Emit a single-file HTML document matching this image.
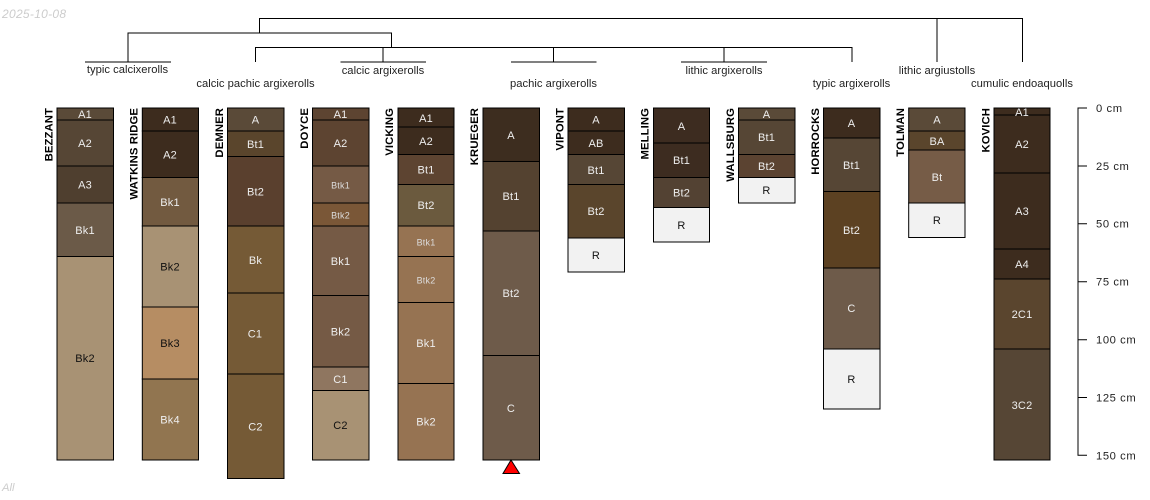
<!DOCTYPE html>
<html><head><meta charset="utf-8"><style>
html,body{margin:0;padding:0;background:#fff;width:1150px;height:500px;overflow:hidden}
svg{display:block;font-family:"Liberation Sans",Arial,sans-serif}
.h rect{stroke:#000;stroke-width:1}
.l text{font-size:11px;fill:#eee;text-anchor:middle;dominant-baseline:central;letter-spacing:.2px}
.l text.d{fill:#111}
.l text.s{font-size:9px;fill:#ddd}
.id text{font-size:11.3px;font-weight:bold;fill:#000;text-anchor:end;letter-spacing:.1px}
.t text{font-size:11.2px;fill:#222;text-anchor:middle;letter-spacing:.03px}
.a text{font-size:11.2px;fill:#222;dominant-baseline:central;letter-spacing:.6px}
</style></head><body>
<svg width="1150" height="500" viewBox="0 0 1150 500" xmlns="http://www.w3.org/2000/svg">
<text x="2" y="18" font-size="12" font-style="italic" fill="#ccc" letter-spacing=".3">2025-10-08</text>
<text x="2" y="491" font-size="11.2" font-style="italic" fill="#ccc">All</text>

<g fill="none" stroke="#000" stroke-width="1">
<path d="M259.5 33V18.5H1022.5V62M937 18.5V62"/>
<path d="M128 62V33H391.5V47.5"/>
<path d="M255.5 62V47.5H852V62M383 47.5V62M553.5 47.5V62M724 47.5V62"/>
<path d="M85 62H171M340.5 62H426M511 62H596.5M681 62H767"/>
</g>
<g class="t">
<text x="127.5" y="73">typic calcixerolls</text>
<text x="255.5" y="87">calcic pachic argixerolls</text>
<text x="383" y="74">calcic argixerolls</text>
<text x="553.5" y="87">pachic argixerolls</text>
<text x="724" y="74">lithic argixerolls</text>
<text x="851.5" y="87">typic argixerolls</text>
<text x="937" y="74">lithic argiustolls</text>
<text x="1022" y="87">cumulic endoaquolls</text>
</g>

<g class="id">
<text transform="translate(52.5 108) rotate(-90)">BEZZANT</text>
<text transform="translate(137.5 108) rotate(-90)">WATKINS RIDGE</text>
<text transform="translate(223 108) rotate(-90)">DEMNER</text>
<text transform="translate(308 108) rotate(-90)">DOYCE</text>
<text transform="translate(393 108) rotate(-90)">VICKING</text>
<text transform="translate(478 108) rotate(-90)">KRUEGER</text>
<text transform="translate(563.5 108) rotate(-90)">VIPONT</text>
<text transform="translate(648.5 108) rotate(-90)">MELLING</text>
<text transform="translate(734 108) rotate(-90)">WALLSBURG</text>
<text transform="translate(819 108) rotate(-90)">HORROCKS</text>
<text transform="translate(904 108) rotate(-90)">TOLMAN</text>
<text transform="translate(989.5 108) rotate(-90)">KOVICH</text>
</g>

<g class="h">
<!-- BEZZANT -->
<rect x="57" y="108" width="56.5" height="12" fill="#5a4a38"/>
<rect x="57" y="120" width="56.5" height="46" fill="#564635"/>
<rect x="57" y="166" width="56.5" height="37" fill="#4f3f2f"/>
<rect x="57" y="203" width="56.5" height="53.5" fill="#6b5a48"/>
<rect x="57" y="256.5" width="56.5" height="203.5" fill="#a89274"/>
<!-- WATKINS RIDGE -->
<rect x="142.3" y="108" width="56.2" height="23" fill="#3d2c1e"/>
<rect x="142.3" y="131" width="56.2" height="46.5" fill="#3d2c1e"/>
<rect x="142.3" y="177.5" width="56.2" height="48.5" fill="#725a40"/>
<rect x="142.3" y="226" width="56.2" height="81" fill="#a89274"/>
<rect x="142.3" y="307" width="56.2" height="72" fill="#b68d63"/>
<rect x="142.3" y="379" width="56.2" height="81" fill="#917550"/>
<!-- DEMNER -->
<rect x="227.5" y="108" width="56.5" height="23" fill="#5a4a38"/>
<rect x="227.5" y="131" width="56.5" height="25.5" fill="#5a452c"/>
<rect x="227.5" y="156.5" width="56.5" height="69.5" fill="#5a402e"/>
<rect x="227.5" y="226" width="56.5" height="67" fill="#755a36"/>
<rect x="227.5" y="293" width="56.5" height="81" fill="#755a36"/>
<rect x="227.5" y="374" width="56.5" height="104.5" fill="#755a36"/>
<!-- DOYCE -->
<rect x="312.5" y="108" width="56.5" height="12" fill="#5d4431"/>
<rect x="312.5" y="120" width="56.5" height="46" fill="#5d4431"/>
<rect x="312.5" y="166" width="56.5" height="37" fill="#755a45"/>
<rect x="312.5" y="203" width="56.5" height="23" fill="#7a5737"/>
<rect x="312.5" y="226" width="56.5" height="69.5" fill="#755a45"/>
<rect x="312.5" y="295.5" width="56.5" height="71.5" fill="#755a45"/>
<rect x="312.5" y="367" width="56.5" height="23.5" fill="#8f7660"/>
<rect x="312.5" y="390.5" width="56.5" height="69.5" fill="#a89274"/>
<!-- VICKING -->
<rect x="398" y="108" width="56" height="19" fill="#3d2c1e"/>
<rect x="398" y="127" width="56" height="27.5" fill="#3d2c1e"/>
<rect x="398" y="154.5" width="56" height="30" fill="#5d4431"/>
<rect x="398" y="184.5" width="56" height="41.5" fill="#6b5a3e"/>
<rect x="398" y="226" width="56" height="30.5" fill="#967352"/>
<rect x="398" y="256.5" width="56" height="46" fill="#967352"/>
<rect x="398" y="302.5" width="56" height="81" fill="#967352"/>
<rect x="398" y="383.5" width="56" height="76.5" fill="#967352"/>
<!-- KRUEGER -->
<rect x="483" y="108" width="56.5" height="53.5" fill="#3d2d1f"/>
<rect x="483" y="161.5" width="56.5" height="69.5" fill="#544230"/>
<rect x="483" y="231" width="56.5" height="124.5" fill="#6e5b4a"/>
<rect x="483" y="355.5" width="56.5" height="104.5" fill="#6e5b4a"/>
<!-- VIPONT -->
<rect x="568" y="108" width="56.5" height="23" fill="#3d2c1e"/>
<rect x="568" y="131" width="56.5" height="23.5" fill="#3d2c1e"/>
<rect x="568" y="154.5" width="56.5" height="30" fill="#564635"/>
<rect x="568" y="184.5" width="56.5" height="53.5" fill="#5a452c"/>
<rect x="568" y="238" width="56.5" height="34" fill="#f2f2f2"/>
<!-- MELLING -->
<rect x="653.5" y="108" width="56" height="35" fill="#3d2c20"/>
<rect x="653.5" y="143" width="56" height="34.5" fill="#3d2c20"/>
<rect x="653.5" y="177.5" width="56" height="30" fill="#534233"/>
<rect x="653.5" y="207.5" width="56" height="34.5" fill="#f2f2f2"/>
<!-- WALLSBURG -->
<rect x="738.5" y="108" width="56.5" height="12" fill="#5a4a38"/>
<rect x="738.5" y="120" width="56.5" height="34.5" fill="#564635"/>
<rect x="738.5" y="154.5" width="56.5" height="23" fill="#5b4331"/>
<rect x="738.5" y="177.5" width="56.5" height="25.5" fill="#f2f2f2"/>
<!-- HORROCKS -->
<rect x="823.5" y="108" width="56.5" height="30" fill="#3d2c1e"/>
<rect x="823.5" y="138" width="56.5" height="53.5" fill="#564635"/>
<rect x="823.5" y="191.5" width="56.5" height="76.5" fill="#5c4122"/>
<rect x="823.5" y="268" width="56.5" height="81" fill="#6e5b4a"/>
<rect x="823.5" y="349" width="56.5" height="60" fill="#f2f2f2"/>
<!-- TOLMAN -->
<rect x="908.7" y="108" width="56.3" height="23" fill="#5a4a38"/>
<rect x="908.7" y="131" width="56.3" height="19" fill="#5a452c"/>
<rect x="908.7" y="150" width="56.3" height="53" fill="#765c47"/>
<rect x="908.7" y="203" width="56.3" height="34.5" fill="#f2f2f2"/>
<!-- KOVICH -->
<rect x="994" y="108" width="56" height="7" fill="#3d2c1e"/>
<rect x="994" y="115" width="56" height="58" fill="#3d2c1e"/>
<rect x="994" y="173" width="56" height="76" fill="#3d2c1e"/>
<rect x="994" y="249" width="56" height="30" fill="#3d2c1e"/>
<rect x="994" y="279" width="56" height="70" fill="#5a452e"/>
<rect x="994" y="349" width="56" height="111" fill="#564635"/>
</g>

<g class="l" transform="translate(0 1)">
<text x="85" y="114">A1</text><text x="85" y="143">A2</text><text x="85" y="184.5">A3</text><text x="85" y="230">Bk1</text><text class="d" x="85" y="358">Bk2</text>
<text x="170" y="119.5">A1</text><text x="170" y="154.5">A2</text><text x="170" y="202">Bk1</text><text class="d" x="170" y="266.5">Bk2</text><text class="d" x="170" y="343">Bk3</text><text x="170" y="419.5">Bk4</text>
<text x="255.5" y="119.5">A</text><text x="255.5" y="144">Bt1</text><text x="255.5" y="191.5">Bt2</text><text x="255.5" y="260">Bk</text><text x="255" y="333.5">C1</text><text x="255.5" y="426.5">C2</text>
<text x="340.5" y="114">A1</text><text x="340.5" y="143">A2</text><text class="s" x="340.5" y="184.5">Btk1</text><text class="s" x="340.5" y="214.5">Btk2</text><text x="340.5" y="261">Bk1</text><text x="340.5" y="331.5">Bk2</text><text x="340.5" y="379">C1</text><text class="d" x="340.5" y="425">C2</text>
<text x="426" y="118">A1</text><text x="426" y="141">A2</text><text x="426" y="169.5">Bt1</text><text x="426" y="205">Bt2</text><text class="s" x="426" y="241.5">Btk1</text><text class="s" x="426" y="279.5">Btk2</text><text x="426" y="343">Bk1</text><text x="426" y="421.5">Bk2</text>
<text x="511" y="135">A</text><text x="511" y="196">Bt1</text><text x="511" y="293">Bt2</text><text x="511" y="408">C</text>
<text x="596" y="119.5">A</text><text x="596" y="143">AB</text><text x="596" y="170">Bt1</text><text x="596" y="211">Bt2</text><text class="d" x="596" y="255">R</text>
<text x="681.5" y="126">A</text><text x="681.5" y="160">Bt1</text><text x="681.5" y="192.5">Bt2</text><text class="d" x="681.5" y="225">R</text>
<text x="766.5" y="114">A</text><text x="766.5" y="137">Bt1</text><text x="766.5" y="166">Bt2</text><text class="d" x="766.5" y="190">R</text>
<text x="851.5" y="123">A</text><text x="851.5" y="165">Bt1</text><text x="851.5" y="230">Bt2</text><text x="851.5" y="308">C</text><text class="d" x="851.5" y="379">R</text>
<text x="937" y="119.5">A</text><text x="937" y="141">BA</text><text x="937" y="177">Bt</text><text class="d" x="937" y="220">R</text>
<text x="1022" y="112">A1</text><text x="1022" y="144">A2</text><text x="1022" y="211">A3</text><text x="1022" y="264">A4</text><text x="1022" y="314">2C1</text><text x="1022" y="405">3C2</text>
</g>

<polygon points="511,460 519.5,473.5 503,473.5" fill="#f00" stroke="#000" stroke-width="1"/>

<g fill="none" stroke="#000" stroke-width="1">
<path d="M1087 108H1078V455.3H1087M1078 166H1087M1078 223.7H1087M1078 281.7H1087M1078 339.7H1087M1078 397.5H1087"/>
</g>
<g class="a" transform="translate(0 1)">
<text x="1096" y="108">0 cm</text>
<text x="1096" y="166">25 cm</text>
<text x="1096" y="223.7">50 cm</text>
<text x="1096" y="281.7">75 cm</text>
<text x="1096" y="339.7">100 cm</text>
<text x="1096" y="397.5">125 cm</text>
<text x="1096" y="455.3">150 cm</text>
</g>
</svg>
</body></html>
